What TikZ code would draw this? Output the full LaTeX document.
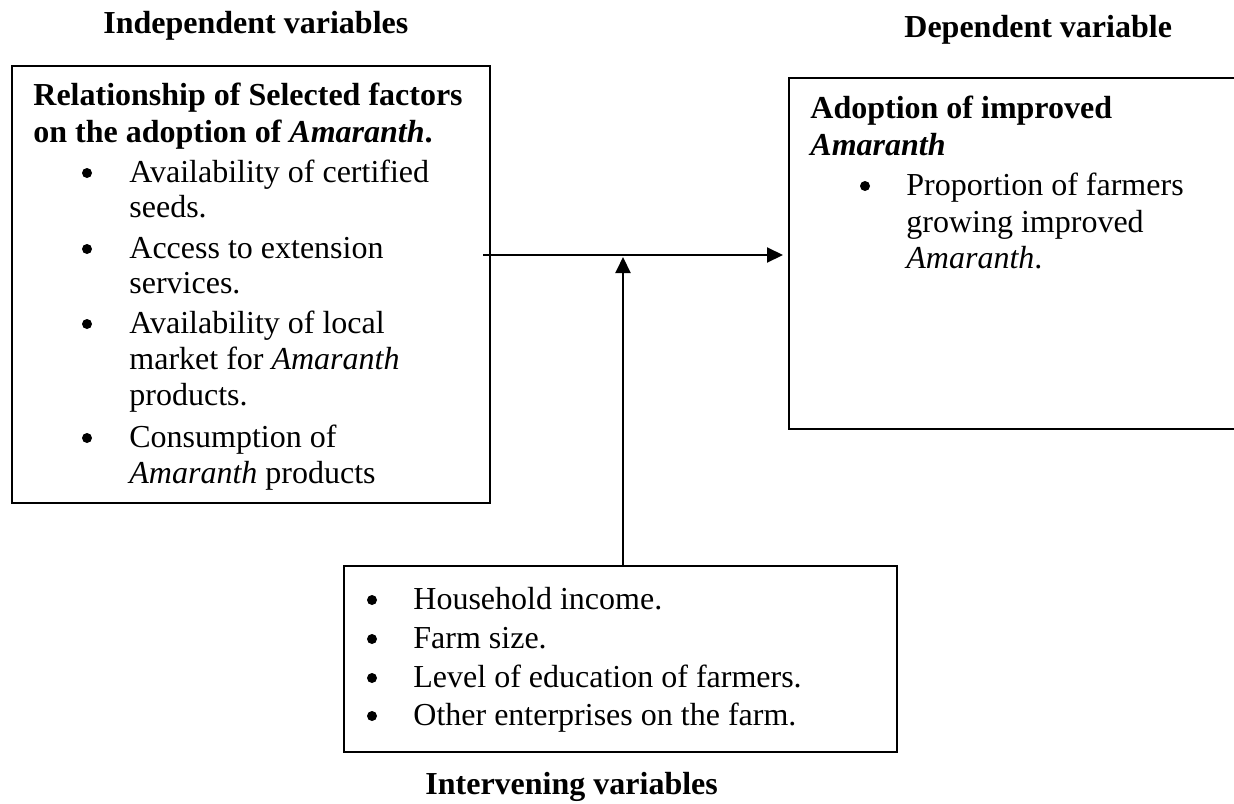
\documentclass[tikz,border=0pt]{standalone}
\usepackage{fontspec}
\setmainfont{Liberation Serif}
\usetikzlibrary{arrows.meta,fit,calc}
\tikzset{
  box/.style={draw, line width=1pt, inner sep=0pt, rectangle},
  txt/.style={anchor=base west, inner sep=0pt, font=\fontsize{16pt}{18pt}\selectfont},
  ttl/.style={anchor=base west, inner sep=0pt, font=\fontsize{16pt}{18pt}\selectfont\bfseries},
  bul/.style={circle, fill=black, draw=none, inner sep=0pt, minimum size=5pt},
  conn/.style={line width=1pt, -{Triangle[length=8pt,width=7.5pt]}},
}
\begin{document}
\begin{tikzpicture}[x=0.5pt,y=-0.5pt]
\useasboundingbox (0,0) rectangle (1234,803);

% titles
\node[ttl] (tInd) at (103,33) {Independent variables};
\node[ttl] (tDep) at (904,37) {Dependent variable};
\node[ttl] (tInt) at (425,794) {Intervening variables};

% boxes
\node[box, fit={(12,65.5) (489.5,503)}] (L) {};
\node[box, fit={(789,78) (1260,429)}] (R) {};
\node[box, fit={(344,566) (897,752)}] (B) {};

% left box text
\node[ttl] (l1) at (33,105) {Relationship of Selected factors};
\node[ttl] (l2) at (33,142) {on the adoption of \textit{Amaranth}.};
\node[bul] (lb1) at (87,173) {};
\node[txt] (l3) at (129,182) {Availability of certified};
\node[txt] (l4) at (129,217) {seeds.};
\node[bul] (lb2) at (87,249) {};
\node[txt] (l5) at (129,258) {Access to extension};
\node[txt] (l6) at (129,293) {services.};
\node[bul] (lb3) at (87,324) {};
\node[txt] (l7) at (129,333) {Availability of local};
\node[txt] (l8) at (129,369) {market for \textit{Amaranth}};
\node[txt] (l9) at (129,405) {products.};
\node[bul] (lb4) at (87,438) {};
\node[txt] (l10) at (129,447) {Consumption of};
\node[txt] (l11) at (129,483) {\textit{Amaranth} products};

% right box text
\node[ttl] (r1) at (810,118) {Adoption of improved};
\node[ttl] (r2) at (810,155) {\textit{Amaranth}};
\node[bul] (rb1) at (865,186) {};
\node[txt] (r3) at (906,195) {Proportion of farmers};
\node[txt] (r4) at (906,232) {growing improved};
\node[txt] (r5) at (906,268) {\textit{Amaranth}.};

% bottom box text
\node[bul] (bb1) at (372,600) {};
\node[txt] (b1) at (413,609) {Household income.};
\node[bul] (bb2) at (372,639) {};
\node[txt] (b2) at (413,648) {Farm size.};
\node[bul] (bb3) at (372,678) {};
\node[txt] (b3) at (413,687) {Level of education of farmers.};
\node[bul] (bb4) at (372,716) {};
\node[txt] (b4) at (413,725) {Other enterprises on the farm.};

% connectors
\coordinate (hs) at (483,255);
\coordinate (vt) at (623,257);
\draw[conn, shorten >=2.5pt] (hs) -- (R.west |- hs);
\draw[conn] (B.north -| vt) -- (vt);
\end{tikzpicture}
\end{document}
